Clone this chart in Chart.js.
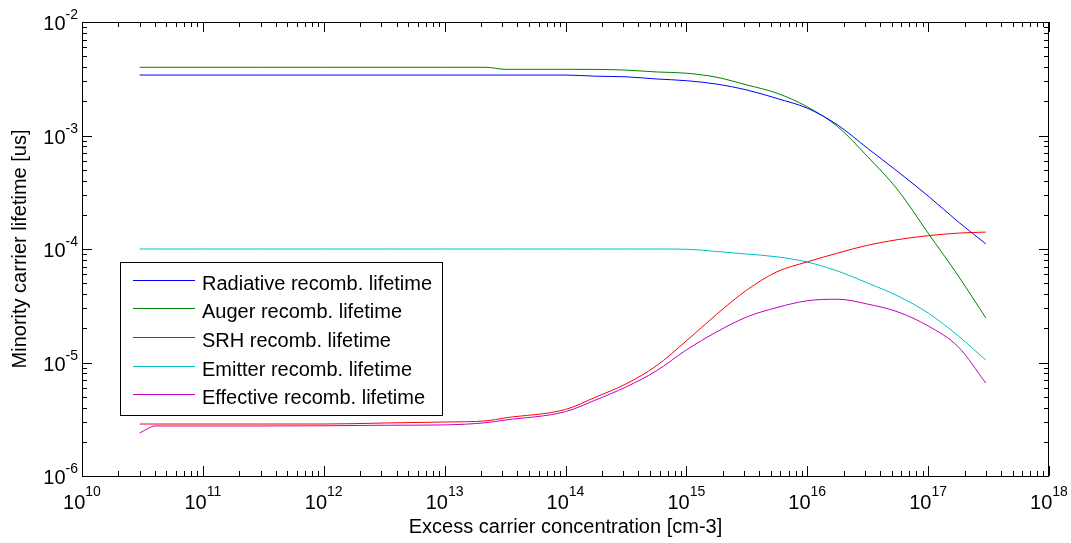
<!DOCTYPE html>
<html lang="en">
<head>
<meta charset="UTF-8">
<title>Minority carrier lifetime</title>
<script src="https://cdn.jsdelivr.net/npm/chart.js"></script>
<style>
  html, body { margin: 0; padding: 0; background: #fff; }
</style>
</head>
<body>
<canvas id="lifetimeChart" width="1071" height="543"></canvas>
<script>
// excess carrier concentration [cm-3]
const conc = [3e10, 3.5e10, 4e10, 1e11, 3.16e11, 1e12, 3.16e12, 1e13, 2.2e13, 3.16e13,
  1e14, 1.78e14, 3.16e14, 5.62e14, 1e15, 1.78e15, 3.16e15, 5.62e15,
  1e16, 1.78e16, 3.16e16, 5.62e16, 1e17, 1.78e17, 3e17];

// lifetimes [us]
const radiative = [3.41e-3, 3.41e-3, 3.41e-3, 3.41e-3, 3.41e-3, 3.41e-3, 3.41e-3, 3.41e-3, 3.41e-3, 3.41e-3,
  3.41e-3, 3.33e-3, 3.29e-3, 3.15e-3, 3.04e-3, 2.84e-3, 2.52e-3, 2.12e-3,
  1.74e-3, 1.24e-3, 7.7e-4, 4.8e-4, 2.93e-4, 1.73e-4, 1.11e-4];
const auger = [3.99e-3, 3.99e-3, 3.99e-3, 3.99e-3, 3.99e-3, 3.99e-3, 3.99e-3, 3.99e-3, 3.99e-3, 3.83e-3,
  3.83e-3, 3.82e-3, 3.77e-3, 3.63e-3, 3.54e-3, 3.26e-3, 2.79e-3, 2.36e-3,
  1.79e-3, 1.20e-3, 6.50e-4, 3.31e-4, 1.38e-4, 5.78e-5, 2.47e-5];
const srh = [2.87e-6, 2.87e-6, 2.87e-6, 2.87e-6, 2.87e-6, 2.87e-6, 2.93e-6, 2.99e-6, 3.06e-6, 3.25e-6,
  3.86e-6, 4.96e-6, 6.47e-6, 9.31e-6, 1.55e-5, 2.66e-5, 4.35e-5, 6.30e-5,
  7.70e-5, 9.20e-5, 1.08e-4, 1.21e-4, 1.31e-4, 1.38e-4, 1.41e-4];
const emitter = [1.0e-4, 1.0e-4, 1.0e-4, 1.0e-4, 1.0e-4, 1.0e-4, 1.0e-4, 1.0e-4, 1.0e-4, 1.0e-4,
  1.0e-4, 1.0e-4, 1.0e-4, 1.0e-4, 9.95e-5, 9.51e-5, 9.03e-5, 8.53e-5,
  7.67e-5, 6.40e-5, 5.01e-5, 3.86e-5, 2.73e-5, 1.71e-5, 1.05e-5];
const effective = [2.39e-6, 2.62e-6, 2.76e-6, 2.76e-6, 2.76e-6, 2.77e-6, 2.80e-6, 2.82e-6, 2.95e-6, 3.11e-6,
  3.69e-6, 4.68e-6, 6.08e-6, 8.41e-6, 1.29e-5, 1.86e-5, 2.52e-5, 3.05e-5,
  3.50e-5, 3.61e-5, 3.27e-5, 2.79e-5, 2.10e-5, 1.37e-5, 6.59e-6];

const xDecades = [10, 11, 12, 13, 14, 15, 16, 17, 18];
const yDecades = [-6, -5, -4, -3, -2];

const FONT = "'Liberation Sans', Arial, Helvetica, sans-serif";

function pts(vals) {
  return conc.map((c, i) => ({ x: c, y: vals[i] }));
}

function series(label, vals, color) {
  return {
    label: label,
    data: pts(vals),
    borderColor: color,
    backgroundColor: color,
    borderWidth: 1,
    pointRadius: 0,
    cubicInterpolationMode: 'monotone',
    fill: false
  };
}

// frame, inward ticks, superscript tick labels, axis titles and legend
const matlabLook = {
  id: 'matlabLook',
  afterDraw(chart) {
    const { ctx, chartArea: a, scales: { x, y } } = chart;
    ctx.save();
    ctx.strokeStyle = '#000';
    ctx.lineWidth = 1;
    ctx.strokeRect(a.left + 0.5, a.top + 0.5, a.right - a.left - 1, a.bottom - a.top);

    const line = (x1, y1, x2, y2) => {
      ctx.beginPath(); ctx.moveTo(x1, y1); ctx.lineTo(x2, y2); ctx.stroke();
    };

    // x ticks
    xDecades.forEach(e => {
      for (let m = 1; m <= 9; m++) {
        if (e === 18 && m > 1) break;
        const px = Math.round(x.getPixelForValue(m * Math.pow(10, e))) + 0.5;
        const len = m === 1 ? 10 : 5;
        line(px, a.bottom, px, a.bottom - len);
        line(px, a.top, px, a.top + len);
      }
    });
    // y ticks
    yDecades.forEach(e => {
      for (let m = 1; m <= 9; m++) {
        if (e === -2 && m > 1) break;
        const py = Math.round(y.getPixelForValue(m * Math.pow(10, e))) + 0.5;
        const len = m === 1 ? 10 : 5;
        line(a.left, py, a.left + len, py);
        line(a.right, py, a.right - len, py);
      }
    });

    ctx.fillStyle = '#000';
    ctx.textBaseline = 'alphabetic';
    const baseFont = '20px ' + FONT;
    const expFont = '14px ' + FONT;

    // x tick labels
    xDecades.forEach(e => {
      const px = x.getPixelForValue(Math.pow(10, e));
      ctx.font = baseFont;
      const wb = ctx.measureText('10').width;
      ctx.font = expFont;
      const we = ctx.measureText(String(e)).width;
      const x0 = px - (wb + we) / 2;
      ctx.textAlign = 'left';
      ctx.font = baseFont;
      ctx.fillText('10', x0, 509);
      ctx.font = expFont;
      ctx.fillText(String(e), x0 + wb, 496);
    });

    // y tick labels
    yDecades.forEach(e => {
      const py = y.getPixelForValue(Math.pow(10, e));
      ctx.font = expFont;
      const we = ctx.measureText(String(e)).width;
      const xr = 78;
      ctx.textAlign = 'right';
      ctx.fillText(String(e), xr, py - 3);
      ctx.font = baseFont;
      ctx.fillText('10', xr - we, py + 8);
    });

    // axis titles
    ctx.font = '20px ' + FONT;
    ctx.textAlign = 'center';
    ctx.textBaseline = 'middle';
    ctx.fillText('Excess carrier concentration [cm-3]', (a.left + a.right) / 2, 527);
    ctx.save();
    ctx.translate(20, (a.top + a.bottom) / 2);
    ctx.rotate(-Math.PI / 2);
    ctx.fillText('Minority carrier lifetime [us]', 0, 0);
    ctx.restore();

    // legend
    const lx = 120, ly = 262, lw = 322, lh = 153;
    ctx.fillStyle = '#fff';
    ctx.fillRect(lx, ly, lw, lh);
    ctx.strokeStyle = '#000';
    ctx.strokeRect(lx + 0.5, ly + 0.5, lw, lh);
    ctx.font = '20px ' + FONT;
    ctx.textAlign = 'left';
    ctx.textBaseline = 'alphabetic';
    chart.data.datasets.forEach((ds, i) => {
      const rowY = Math.round(279.5 + i * 28.7);
      ctx.strokeStyle = ds.borderColor;
      line(133, rowY + 0.5, 195, rowY + 0.5);
      ctx.fillStyle = '#000';
      ctx.fillText(ds.label, 202, rowY + 10);
    });
    ctx.restore();
  }
};

new Chart(document.getElementById('lifetimeChart'), {
  type: 'line',
  data: {
    datasets: [
      series('Radiative recomb. lifetime', radiative, '#0000ff'),
      series('Auger recomb. lifetime', auger, '#008000'),
      series('SRH recomb. lifetime', srh, '#ff0000'),
      series('Emitter recomb. lifetime', emitter, '#00bfbf'),
      series('Effective recomb. lifetime', effective, '#bf00bf')
    ]
  },
  options: {
    responsive: false,
    animation: false,
    layout: { padding: { top: 22, right: 22, left: 0, bottom: 0 } },
    plugins: { legend: { display: false }, tooltip: { enabled: false } },
    scales: {
      x: {
        type: 'logarithmic',
        min: 1e10,
        max: 1e18,
        grid: { display: false },
        border: { display: false },
        ticks: { display: false },
        afterFit: s => { s.height = 67; }
      },
      y: {
        type: 'logarithmic',
        min: 1e-6,
        max: 1e-2,
        grid: { display: false },
        border: { display: false },
        ticks: { display: false },
        afterFit: s => { s.width = 82; }
      }
    }
  },
  plugins: [matlabLook]
});
</script>
</body>
</html>
